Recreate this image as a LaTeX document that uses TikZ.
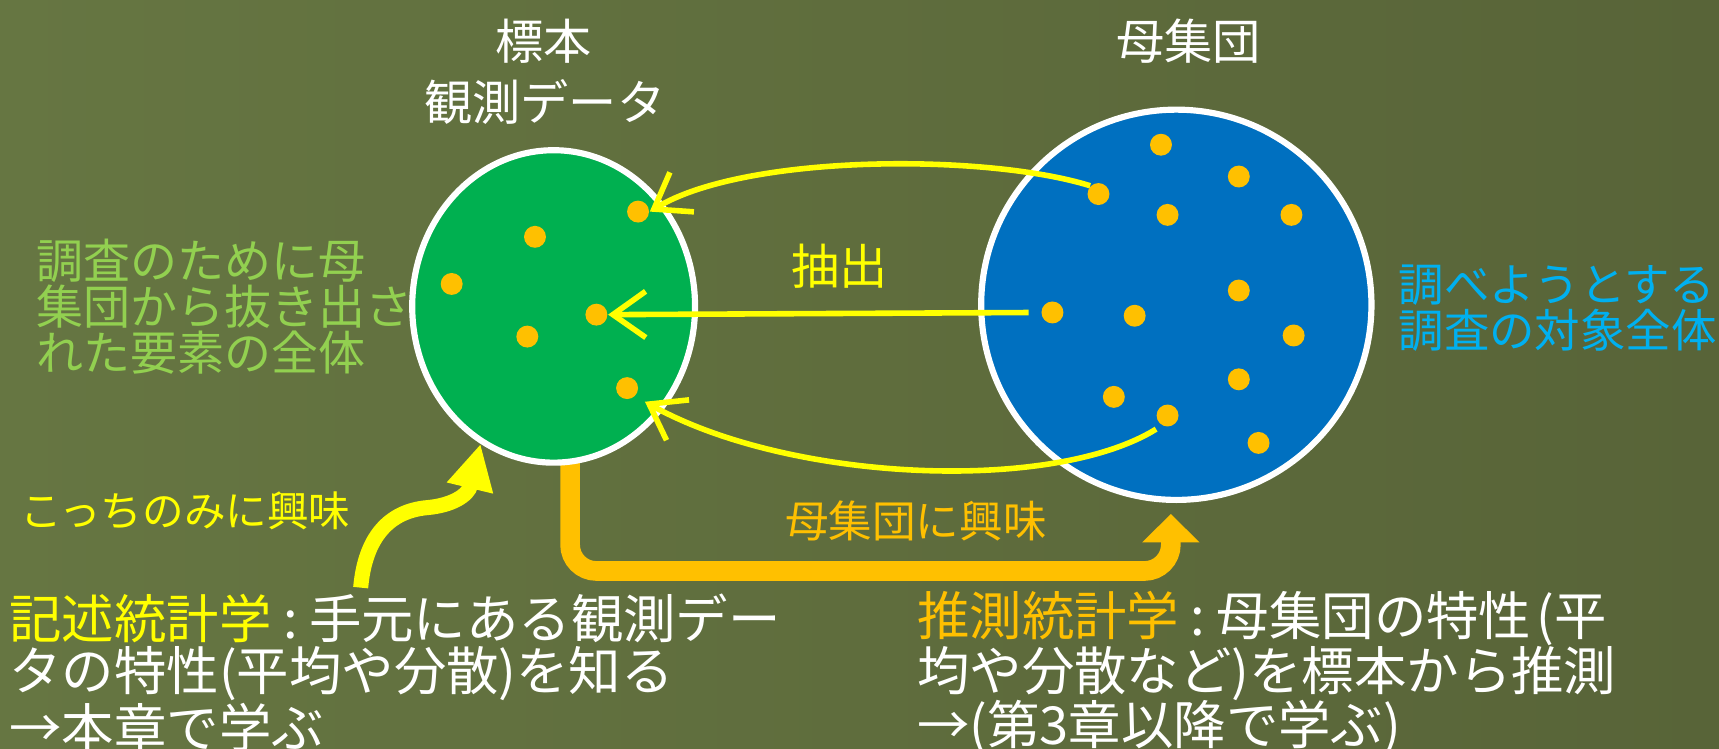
\documentclass[tikz,border=0pt]{standalone}
\usepackage{fontspec}
\setmainfont{Noto Sans CJK JP}
\usetikzlibrary{shapes.geometric,arrows.meta,calc}
\pgfdeclarelayer{boardlayer}
\pgfdeclarelayer{underlayer}
\pgfsetlayers{boardlayer,underlayer,main}
\definecolor{boardL}{RGB}{102,118,66}
\definecolor{boardD}{RGB}{88,100,56}
\definecolor{sampfill}{RGB}{0,176,80}
\definecolor{popfill}{RGB}{0,112,192}
\definecolor{dotc}{RGB}{255,192,0}
\definecolor{yel}{RGB}{255,255,0}
\definecolor{org}{RGB}{255,192,0}
\definecolor{lgreen}{RGB}{146,208,80}
\definecolor{lblue}{RGB}{0,176,240}
\newcommand{\colsep}{\hspace{0.22em}:\hspace{0.22em}}
\begin{document}
\begin{tikzpicture}[x=0.1mm,y=-0.1mm,
  dot/.style={circle,fill=dotc,minimum size=2mm,inner sep=0pt},
  setbox/.style={ellipse,draw=white,line width=1.6pt,inner sep=0pt},
  lbl/.style={inner sep=0pt},
  yarrow/.style={draw=yel,line width=1.45pt,-{Straight Barb[length=8.5pt,width=12pt]}},
  fbig/.style={font={\fontsize{13.6pt}{14.2pt}\selectfont}},
  ftitle/.style={font={\fontsize{12.5pt}{15.6pt}\selectfont}},
]
\useasboundingbox (0,0) rectangle (1568,683);
\begin{pgfonlayer}{boardlayer}
\shade[left color=boardL,right color=boardD] (0,0) rectangle (1568,683);
\end{pgfonlayer}

% titles
\node[lbl,ftitle,white] (t1) at (496,38) {標本};
\node[lbl,ftitle,white] (t2) at (497,93) {観測データ};
\node[lbl,ftitle,white] (t3) at (1084,38) {母集団};

% sets
\node[setbox,fill=sampfill,minimum width=25.8mm,minimum height=28.5mm] (sample) at (505,279.5) {};
\node[setbox,fill=popfill,minimum width=35.6mm,minimum height=35.6mm] (pop) at (1073,278) {};

% orange arrow (beneath the sets)
\begin{pgfonlayer}{underlayer}
\draw[org,line width=5.1pt,rounded corners=2.4mm,-{Triangle[length=7.4pt,width=14.5pt]}]
  ($(sample.south)+(15,-6)$) |- ($(pop.south)+(-5,62)$) -- ($(pop.south)+(-5,10)$);
\end{pgfonlayer}

% dots in sample
\node[dot] (g1) at (582,193) {};
\node[dot] (g2) at (488,216) {};
\node[dot] (g3) at (412,259) {};
\node[dot] (g4) at (544,287) {};
\node[dot] (g5) at (481,307) {};
\node[dot] (g6) at (572,354) {};
% dots in population
\node[dot] (b1) at (1059,132) {};
\node[dot] (b2) at (1130,161) {};
\node[dot] (b3) at (1002,177) {};
\node[dot] (b4) at (1065,196) {};
\node[dot] (b5) at (1178,196) {};
\node[dot] (b6) at (1130,265) {};
\node[dot] (b7) at (960,285) {};
\node[dot] (b8) at (1035,288) {};
\node[dot] (b9) at (1180,306) {};
\node[dot] (b10) at (1130,346) {};
\node[dot] (b11) at (1016,362) {};
\node[dot] (b12) at (1065,379) {};
\node[dot] (b13) at (1148,404) {};

% extraction arrows
\draw[yarrow] (b3.north west) .. controls (900,140) and (680,140) .. (g1.east);
\draw[yarrow,shorten <=1.1mm] (b7.west) -- (g4.east);
\draw[yarrow,shorten <=0.6mm,shorten >=1mm] (b12.240) .. controls (960,450) and (720,440) .. (g6.south east);
\node[lbl,ftitle,yel] (ext) at (766,243) {抽出};

\node[lbl,org,font={\fontsize{11.3pt}{13pt}\selectfont}] (popint) at (835.5,475) {母集団に興味};

% side notes
\node[lbl,lgreen,anchor=west,align=left,font={\fontsize{12.2pt}{11.95pt}\selectfont}] (lnote) at (33,280) {調査のために母\\集団から抜き出さ\\れた要素の全体};
\node[lbl,lblue,anchor=west,align=left,font={\fontsize{11.8pt}{10.8pt}\selectfont}] (rnote) at (1275,281) {調べようとする\\調査の対象全体};
\node[lbl,yel,anchor=west,font={\fontsize{10.8pt}{13pt}\selectfont}] (only) at (18,466) {こっちのみに興味};

% bottom texts
\node[lbl,fbig,white,anchor=west] (d1) at (8,564) {\textcolor{yel}{記述統計学}\colsep 手元にある観測デー};
\node[lbl,fbig,white,anchor=west] (d2) at (8,614) {タの特性(平均や分散)を知る};
\node[lbl,fbig,white,anchor=west] (d3) at (8,664) {→本章で学ぶ};
\node[lbl,fbig,white,anchor=west] (i1) at (836,564) {\textcolor{org}{推測統計学}\colsep 母集団の特性\hspace{0.1em}(平};
\node[lbl,fbig,white,anchor=west] (i2) at (836,614) {均や分散など)を標本から推測};
\node[lbl,fbig,white,anchor=west] (i3) at (836,664) {→(第3章以降で学ぶ)};

% curved thick arrow
\coordinate (k0) at (329,536);
\draw[yel,line width=3.9pt,-{Triangle[length=11.8pt,width=11.5pt]}] (k0) .. controls (333,490) and (355,466) .. (390,463) .. controls (412,461) and (427,452) .. (sample.242);
\end{tikzpicture}
\end{document}
